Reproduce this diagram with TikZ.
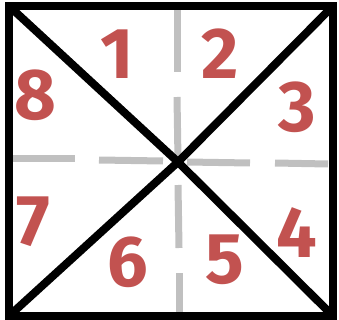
\documentclass[tikz,border=0pt]{standalone}
\usepackage{fontspec}
\setmainfont{Fira Sans}
\definecolor{numred}{RGB}{194,82,80}
\definecolor{dashgray}{RGB}{192,192,192}
\begin{document}
\begin{tikzpicture}[x=1pt,y=-1pt,
  frame/.style={line width=8pt},
  diag/.style={line width=8pt},
  gdash/.style={line width=7pt,draw=dashgray},
  num/.style={text=numred,font=\fontsize{72}{72}\selectfont\bfseries,inner sep=0pt}]
\useasboundingbox (0,0) rectangle (339,320);
\coordinate (tl) at (9,6);
\coordinate (tr) at (333,6);
\coordinate (bl) at (9,316);
\coordinate (br) at (333,316);
\coordinate (c) at (178,162);
% gray dashes
\draw[gdash] (177,10) -- (177,72);
\draw[gdash] (177,97) -- (178,160);
\draw[gdash] (178,185) -- (179,248);
\draw[gdash] (179,273) -- (179,313);
\draw[gdash] (12,159) -- (75,159);
\draw[gdash] (99,160) -- (163,161);
\draw[gdash] (187,162) -- (250,163);
\draw[gdash] (275,163) -- (328,164);
% diagonals
\draw[diag] (tl) -- (c) -- (br);
\draw[diag] (tr) -- (c) -- (bl);
% frame
\draw[frame] (tl) rectangle (br);
% numbers
\node[num] (n1) at (117,54) {1};
\node[num] (n2) at (220,54) {2};
\node[num] (n3) at (297,107) {3};
\node[num] (n4) at (297,233) {4};
\node[num] (n5) at (225,260) {5};
\node[num] (n6) at (128,262) {6};
\node[num] (n7) at (33,222) {7};
\node[num] (n8) at (35,95) {8};
\end{tikzpicture}
\end{document}
